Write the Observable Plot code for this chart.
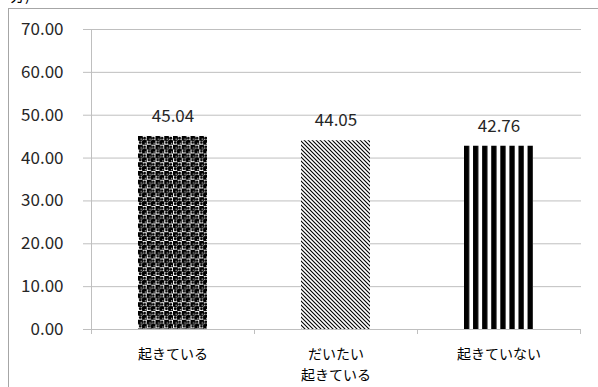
<!DOCTYPE html>
<html>
<head>
<meta charset="utf-8">
<script src="https://cdn.jsdelivr.net/npm/d3@7"></script>
<script src="https://cdn.jsdelivr.net/npm/@observablehq/plot@0.6"></script>
<style>
  html, body { margin: 0; padding: 0; background: #fff; }
  #wrap { position: relative; width: 598px; height: 387px; overflow: hidden; font-family: "Noto Sans CJK JP", sans-serif; }
  #frame { position: absolute; left: 8px; top: 8px; width: 700px; height: 500px; border-left: 1px solid #a6a6a6; border-top: 1px solid #a6a6a6; }
  #unit { position: absolute; left: 10px; top: -15px; font-size: 15px; line-height: 20px; color: #000; }
  #chart { position: absolute; left: 0; top: 0; }
</style>
</head>
<body>
<div id="wrap">
  <div id="unit">分)</div>
  <div id="frame"></div>
  <div id="chart"></div>
</div>
<script>
const categories = ["起きている", "だいたい\n起きている", "起きていない"];
const values = [45.04, 44.05, 42.76];
const patterns = ["url(#pDots)", "url(#pHatch)", "url(#pStripes)"];
const yTicks = [0, 10, 20, 30, 40, 50, 60, 70];

const data = categories.map((c, i) => ({cat: c, value: values[i], pat: patterns[i]}));
const inset = 47;
const textColor = "#262626";

const plot = Plot.plot({
  width: 598,
  height: 387,
  marginLeft: 90,
  marginRight: 17,
  marginTop: 29,
  marginBottom: 58,
  style: {fontFamily: "'Noto Sans CJK JP', sans-serif", background: "transparent", color: textColor},
  x: {domain: categories, padding: 0, axis: null, label: null},
  y: {domain: [0, 70], axis: null, label: null},
  color: {type: "identity"},
  marks: [
    Plot.gridY(yTicks, {stroke: "#bfbfbf", strokeOpacity: 1}),
    Plot.axisY({ticks: yTicks, tickSize: 7, tickPadding: 20, stroke: "#bfbfbf", strokeOpacity: 1, fontSize: 17, fill: textColor, label: null, tickFormat: d => d.toFixed(2)}),
    Plot.barY(data, {x: "cat", y: "value", fill: "pat", insetLeft: inset, insetRight: inset}),
    Plot.ruleY([0], {stroke: "#bfbfbf"}),
    Plot.axisX({tickSize: 0, tickPadding: 15, fontSize: 14, fill: "#000", lineHeight: 1.5, lineAnchor: "top", label: null}),
    Plot.text(data, {x: "cat", y: "value", text: d => d.value.toFixed(2), dy: -20, fontSize: 17, fill: textColor})
  ]
});
document.getElementById("chart").appendChild(plot);

// y-axis line and category boundary ticks, placed through Plot's own scales
const sx = plot.scale("x"), sy = plot.scale("y");
const svg = d3.select(plot);
const bw = sx.bandwidth;
const x0 = sx.apply(categories[0]);
const yBase = sy.apply(0), yTop = sy.apply(70);
const lines = svg.append("g").attr("stroke", "#bfbfbf").attr("stroke-width", 1);
lines.append("line").attr("x1", x0 + 0.5).attr("x2", x0 + 0.5).attr("y1", yTop).attr("y2", yBase);
categories.forEach((c, i) => {
  const xs = [sx.apply(c)];
  if (i === categories.length - 1) xs.push(sx.apply(c) + bw);
  xs.forEach(x => lines.append("line").attr("x1", x + 0.5).attr("x2", x + 0.5).attr("y1", yBase).attr("y2", yBase + 5));
});

// fill patterns
const defs = svg.insert("defs", ":first-child");
const P = 8.75;
const dots = defs.append("pattern").attr("id", "pDots").attr("patternUnits", "userSpaceOnUse")
  .attr("x", sx.apply(categories[0]) + inset).attr("y", sy.apply(values[0])).attr("width", P).attr("height", P);
dots.append("rect").attr("width", P).attr("height", P).attr("fill", "#fff");
[[2.2, 2.2], [6.55, 6.55]].forEach(([cx, cy]) => {
  dots.append("circle").attr("cx", cx).attr("cy", cy).attr("r", 2.9).attr("fill", "#000");
  dots.append("circle").attr("cx", cx + 0.9).attr("cy", cy + 0.9).attr("r", 0.6).attr("fill", "#fff");
});
[[6.55, 2.2], [2.2, 6.55]].forEach(([cx, cy]) => {
  dots.append("circle").attr("cx", cx).attr("cy", cy).attr("r", 1.4).attr("fill", "#000");
});

const hatch = defs.append("pattern").attr("id", "pHatch").attr("patternUnits", "userSpaceOnUse")
  .attr("width", 4).attr("height", 4);
hatch.append("rect").attr("width", 4).attr("height", 4).attr("fill", "#fff");
hatch.append("path").attr("d", "M-1,-1L5,5M-1,3L1,5M3,-1L5,1").attr("stroke", "#000").attr("stroke-width", 1.1);

const barW = bw - 2 * inset;
const period = barW / 7.6;
const stripes = defs.append("pattern").attr("id", "pStripes").attr("patternUnits", "userSpaceOnUse")
  .attr("x", sx.apply(categories[2]) + inset).attr("y", 0).attr("width", period).attr("height", 10);
stripes.append("rect").attr("width", period).attr("height", 10).attr("fill", "#fff");
stripes.append("rect").attr("width", period * 0.58).attr("height", 10).attr("fill", "#000");
</script>
</body>
</html>
